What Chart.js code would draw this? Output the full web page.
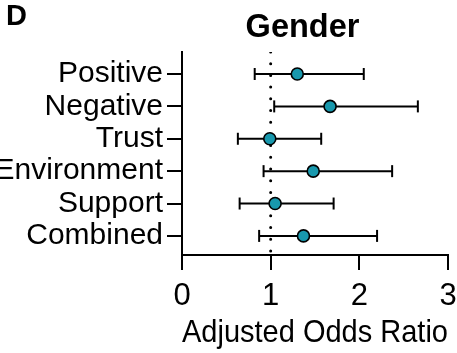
<!DOCTYPE html>
<html>
<head>
<meta charset="utf-8">
<script src="https://cdn.jsdelivr.net/npm/chart.js@4"></script>
<style>
  html, body { margin: 0; padding: 0; background: #fff; }
  #wrap { width: 457px; height: 353px; }
</style>
</head>
<body>
<div id="wrap"><canvas id="c" width="457" height="353"></canvas></div>
<script>
// Adjusted odds ratios (gender) with 95% CI
const categories = ['Positive', 'Negative', 'Trust', 'Environment', 'Support', 'Combined'];
const oddsRatio = [1.30, 1.67, 0.99, 1.48, 1.05, 1.37];
const ciLower = [0.82, 1.04, 0.63, 0.92, 0.65, 0.87];
const ciUpper = [2.05, 2.66, 1.57, 2.37, 1.71, 2.20];
const xTicks = [0, 1, 2, 3];
const refValue = 1;

const FONT = "'Liberation Sans', Arial, sans-serif";
const TEAL = '#1898ad';
const Y_MIN = -0.68, Y_MAX = 5.59;

// panel letter + title, drawn over the plot
const headerPlugin = {
  id: 'header',
  afterDraw(chart) {
    const ctx = chart.ctx;
    ctx.save();
    ctx.fillStyle = '#000';
    ctx.textBaseline = 'alphabetic';
    ctx.textAlign = 'left';
    ctx.font = `bold 29px ${FONT}`;
    ctx.fillText('D', 6, 25);
    ctx.textAlign = 'center';
    ctx.font = `bold 32.5px ${FONT}`;
    ctx.fillText('Gender', 302.5, 37);
    ctx.restore();
  }
};

// CI whiskers: one little line dataset per row, caps as vertical 'line' points
const ciSets = categories.map((c, i) => ({
  type: 'line',
  label: c + ' CI',
  data: [{ x: ciLower[i], y: i }, { x: ciUpper[i], y: i }],
  borderColor: '#000', borderWidth: 2,
  pointStyle: 'line', rotation: 90, pointRadius: 6,
  pointBorderColor: '#000', pointBorderWidth: 2,
  order: 1, clip: false
}));

const cfg = {
  type: 'scatter',
  data: {
    datasets: [
      {
        label: 'OR',
        data: oddsRatio.map((v, i) => ({ x: v, y: i })),
        backgroundColor: TEAL, borderColor: '#000', borderWidth: 1.6,
        pointRadius: 6, order: 0, clip: false
      },
      ...ciSets,
      {
        type: 'line',
        label: 'ref',
        data: [{ x: refValue, y: Y_MIN }, { x: refValue, y: Y_MAX }],
        borderColor: '#000', borderWidth: 3,
        borderDash: [0, 11.7], borderCapStyle: 'round',
        pointRadius: 0, order: 2
      }
    ]
  },
  options: {
    responsive: false, animation: false,
    layout: { padding: { top: 52, right: 9, left: 0, bottom: 0 } },
    plugins: { legend: { display: false }, tooltip: { enabled: false } },
    scales: {
      x: {
        type: 'linear', min: 0, max: 3,
        afterBuildTicks: s => { s.ticks = xTicks.map(v => ({ value: v })); },
        afterFit: s => { s.height = 98; s.paddingLeft = 0; s.paddingRight = 0; },
        grid: { drawOnChartArea: false, color: '#000', lineWidth: 2, tickLength: 15 },
        border: { color: '#000', width: 2 },
        ticks: { color: '#000', font: { family: FONT, size: 31 }, padding: 8, maxRotation: 0 },
        title: {
          display: true, text: 'Adjusted Odds Ratio', color: '#000',
          font: { family: FONT, size: 30.5 }, padding: { top: 0, bottom: 1 }
        }
      },
      y: {
        type: 'linear', min: Y_MIN, max: Y_MAX, reverse: true,
        afterBuildTicks: s => { s.ticks = categories.map((c, i) => ({ value: i })); },
        afterFit: s => { s.width = 182; s.paddingTop = 0; s.paddingBottom = 0; },
        grid: { drawOnChartArea: false, color: '#000', lineWidth: 2, tickLength: 15 },
        border: { color: '#000', width: 2 },
        ticks: {
          color: '#000', font: { family: FONT, size: 30 }, padding: 4, autoSkip: false,
          callback: v => categories[v]
        }
      }
    }
  },
  plugins: [headerPlugin]
};

new Chart(document.getElementById('c'), cfg);
</script>
</body>
</html>
